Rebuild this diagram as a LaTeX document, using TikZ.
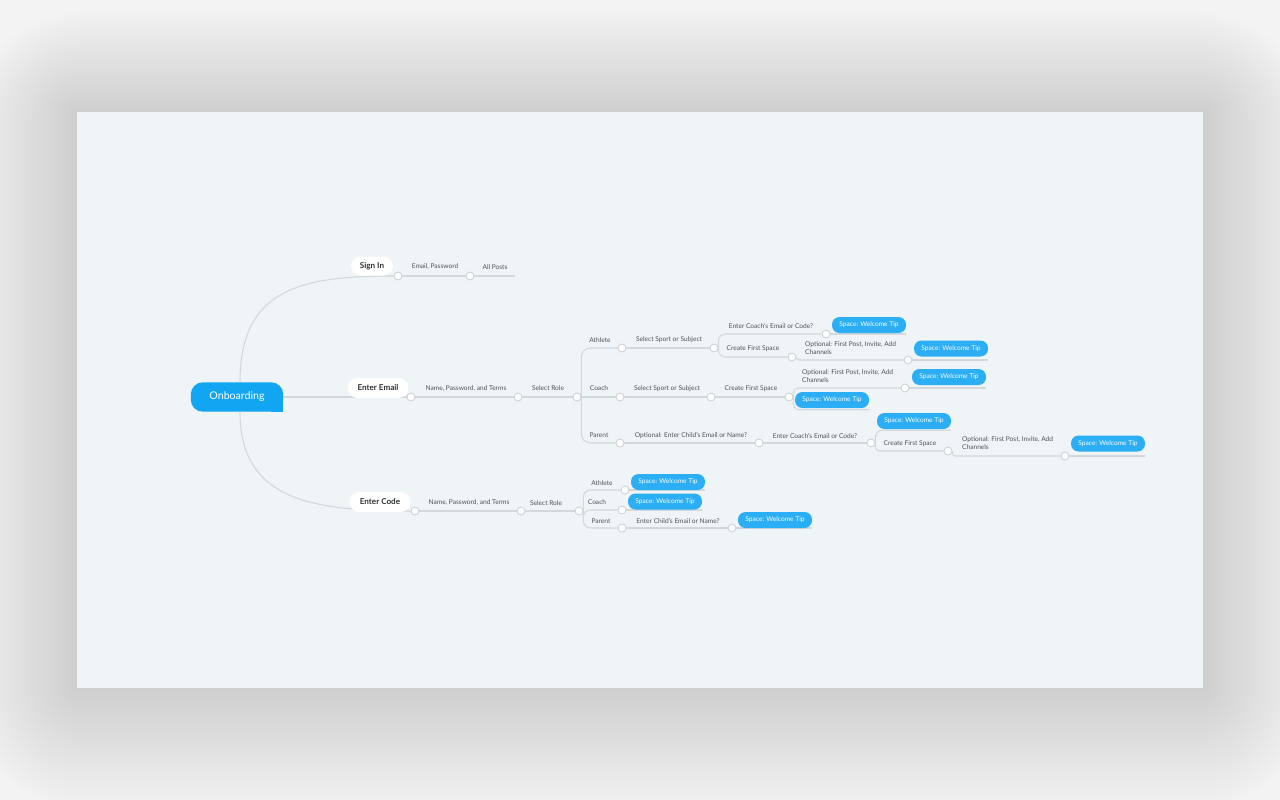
\documentclass[tikz,border=0pt]{standalone}
\usepackage{fontspec}
\setmainfont{Lato}
\pgfdeclarelayer{back}
\pgfdeclarelayer{bg}
\pgfsetlayers{back,bg,main}
\definecolor{outerc}{HTML}{F3F3F3}
\definecolor{panelc}{HTML}{EFF4F7}
\definecolor{linec}{HTML}{D3D8DC}
\definecolor{knobc}{HTML}{C9CFD4}
\definecolor{txtc}{HTML}{4F5356}
\definecolor{darktxt}{HTML}{2E3133}
\definecolor{tipc}{HTML}{2BAEF3}
\definecolor{onbc}{HTML}{12A5F1}
\tikzset{
  conn/.style={draw=linec, line width=1.1pt, rounded corners=7pt},
  knob/.style={circle, draw=knobc, fill=white, line width=0.8pt, minimum size=8pt, inner sep=0pt},
  lbl/.style={font=\fontsize{6.6}{8}\selectfont, text=txtc, inner sep=0pt},
  lbltwo/.style={lbl, align=left, anchor=west},
  welcome/.style={rounded corners=7.5pt, fill=tipc, text=white, font=\fontsize{6.6}{8}\selectfont, minimum height=16pt, minimum width=74pt, inner sep=0pt},
  rootpill/.style={rounded corners=10pt, fill=white, text=darktxt, font=\bfseries\fontsize{8.1}{9}\selectfont, minimum height=20pt, inner sep=0pt},
}
\begin{document}
\begin{tikzpicture}[x=1pt,y=-1pt]
\useasboundingbox (0,0) rectangle (1280,800);
\begin{pgfonlayer}{back}
\fill[outerc] (0,0) rectangle (1280,800);
\foreach \i in {1,...,36}{
  \pgfmathsetmacro{\rc}{3.5*\i}
  \fill[black, opacity=0.0021, rounded corners=\rc pt] (77-3.2*\i,112-2.8*\i) rectangle (1203+3.2*\i,688+3.4*\i);
}
\fill[panelc] (77,112) rectangle (1203,688);
\end{pgfonlayer}

% root
\node[minimum width=92pt, minimum height=29pt, inner sep=0pt, text=white, font=\fontsize{10.6}{12}\selectfont] (ob) at (237,397) {Onboarding};
\begin{pgfonlayer}{bg}
\fill[onbc, rounded corners=12pt] (ob.south west) rectangle (ob.north east);
\fill[onbc] (ob.south east) rectangle ([xshift=-12pt,yshift=12pt]ob.south east);
\end{pgfonlayer}

% Sign In branch
\node[rootpill, minimum width=42pt, minimum height=19pt] (si) at (372,266) {Sign In};
\node[knob] (siC) at (398,276) {};
\node[lbl] (s1) at (435,267) {Email, Password};
\node[knob] (s1C) at (470,276) {};
\node[lbl] (s2) at (495,267) {All Posts};
\coordinate (s2end) at (515,276);

% Enter Email branch
\node[rootpill, minimum width=61pt] (ee) at (378,388) {Enter Email};
\node[knob] (eeC) at (411,397) {};
\node[lbl] (e1) at (466,388.5) {Name, Password, and Terms};
\node[knob] (e1C) at (518,397) {};
\node[lbl] (e2) at (548,388.5) {Select Role};
\node[knob] (e2C) at (577,397) {};

% Athlete
\node[lbl] (a) at (600,340) {Athlete};
\node[knob] (aC) at (622,348) {};
\node[lbl] (a1) at (669,340) {Select Sport or Subject};
\node[knob] (a1C) at (714,348) {};
\node[lbl] (a11) at (771,326) {Enter Coach's Email or Code?};
\node[knob] (a11C) at (826,334) {};
\node[welcome] (a111) at (869,325) {Space: Welcome Tip};
\node[lbl] (a12) at (753,349) {Create First Space};
\node[knob] (a12C) at (792,357) {};
\node[lbltwo] (a121) at (805,348) {Optional: First Post, Invite, Add\\Channels};
\node[knob] (a121C) at (908,360) {};
\node[welcome] (a1211) at (951,348.5) {Space: Welcome Tip};

% Coach
\node[lbl] (c) at (599,388.5) {Coach};
\node[knob] (cC) at (620,397) {};
\node[lbl] (c1) at (667,388.5) {Select Sport or Subject};
\node[knob] (c1C) at (711,397) {};
\node[lbl] (c2) at (751,388.5) {Create First Space};
\node[knob] (c2C) at (789,397) {};
\node[lbltwo] (c21) at (802,376) {Optional: First Post, Invite, Add\\Channels};
\node[knob] (c21C) at (905,388) {};
\node[welcome] (c211) at (949,377) {Space: Welcome Tip};
\node[welcome] (c22) at (832,400) {Space: Welcome Tip};

% Parent
\node[lbl] (p) at (599,435.5) {Parent};
\node[knob] (pC) at (620,443) {};
\node[lbl] (p1) at (691,435.5) {Optional: Enter Child's Email or Name?};
\node[knob] (p1C) at (759,443) {};
\node[lbl] (p2) at (815,435.5) {Enter Coach's Email or Code?};
\node[knob] (p2C) at (871,443) {};
\node[welcome] (p21) at (914,421) {Space: Welcome Tip};
\node[lbl] (p22) at (910,444) {Create First Space};
\node[knob] (p22C) at (948,451) {};
\node[lbltwo] (p221) at (962,443) {Optional: First Post, Invite, Add\\Channels};
\node[knob] (p221C) at (1065,456) {};
\node[welcome] (p2211) at (1108,443.5) {Space: Welcome Tip};

% Enter Code branch
\node[rootpill, minimum width=61pt] (ec) at (380,502) {Enter Code};
\node[knob] (ecC) at (415,511) {};
\node[lbl] (k1) at (469,503) {Name, Password, and Terms};
\node[knob] (k1C) at (521,511) {};
\node[lbl] (k2) at (546,503) {Select Role};
\node[knob] (k2C) at (579,511) {};
\node[lbl] (ka) at (602,483) {Athlete};
\node[knob] (kaC) at (625,490) {};
\node[welcome] (ka1) at (668,482) {Space: Welcome Tip};
\node[lbl] (kc) at (597,502.5) {Coach};
\node[knob] (kcC) at (622,510) {};
\node[welcome] (kc1) at (665,501.5) {Space: Welcome Tip};
\node[lbl] (kp) at (601,521) {Parent};
\node[knob] (kpC) at (622,528) {};
\node[lbl] (kp1) at (678,521) {Enter Child's Email or Name?};
\node[knob] (kp1C) at (732,528) {};
\node[welcome] (kp11) at (775,520) {Space: Welcome Tip};

\begin{pgfonlayer}{bg}
% root curves
\draw[conn] ([xshift=3pt]ob.north) .. controls +(0,-93) and +(-94,0) .. (siC.west);
\draw[conn] (ob.east) -- (eeC.west);
\draw[conn] ([xshift=3pt]ob.south) .. controls +(0,88) and +(-100,0) .. (ecC.west);
% sign in
\draw[conn] (siC.east) -- (s1C.west);
\draw[conn] (s1C.east) -- (s2end);
% enter email
\draw[conn] (eeC.east) -- (e1C.west);
\draw[conn] (e1C.east) -- (e2C.west);
\draw[conn, rounded corners=9pt] (e2C.east) |- (aC.west);
\draw[conn] (e2C.east) -- (cC.west);
\draw[conn, rounded corners=9pt] (e2C.east) |- (pC.west);
% athlete
\draw[conn] (aC.east) -- (a1C.west);
\draw[conn] (a1C.east) |- (a11C.west);
\draw[conn] (a1C.east) |- (a12C.west);
\draw[conn] (a11C.east) -- (a111.south east |- a11C);
\draw[conn, rounded corners=3pt] (a12C.east) |- (a121C.west);
\draw[conn] (a121C.east) -- (a1211.south east |- a121C);
% coach
\draw[conn] (cC.east) -- (c1C.west);
\draw[conn] (c1C.east) -- (c2C.west);
\draw[conn, rounded corners=5pt] (c2C.east) |- (c21C.west);
\draw[conn] (c21C.east) -- (c211.south east |- c21C);
\draw[conn, rounded corners=6pt] (c2C.east) |- ([yshift=-1.5pt]c22.south east);
% parent
\draw[conn] (pC.east) -- (p1C.west);
\draw[conn] (p1C.east) -- (p2C.west);
\draw[conn] (p2C.east) |- ([yshift=-1pt]p21.south east);
\draw[conn, rounded corners=4pt] (p2C.east) |- (p22C.west);
\draw[conn, rounded corners=3pt] (p22C.east) |- (p221C.west);
\draw[conn] (p221C.east) -- (p2211.south east |- p221C);
% enter code
\draw[conn] (ecC.east) -- (k1C.west);
\draw[conn] (k1C.east) -- (k2C.west);
\draw[conn] (k2C.east) |- (kaC.west);
\draw[conn] (k2C.east) |- (kcC.west);
\draw[conn] (k2C.east) |- (kpC.west);
\draw[conn] (kaC.east) -- (ka1.south east |- kaC);
\draw[conn] (kcC.east) -- (kc1.south east |- kcC);
\draw[conn] (kpC.east) -- (kp1C.west);
\draw[conn] (kp1C.east) -- (kp11.south east |- kp1C);
\end{pgfonlayer}
\end{tikzpicture}
\end{document}
